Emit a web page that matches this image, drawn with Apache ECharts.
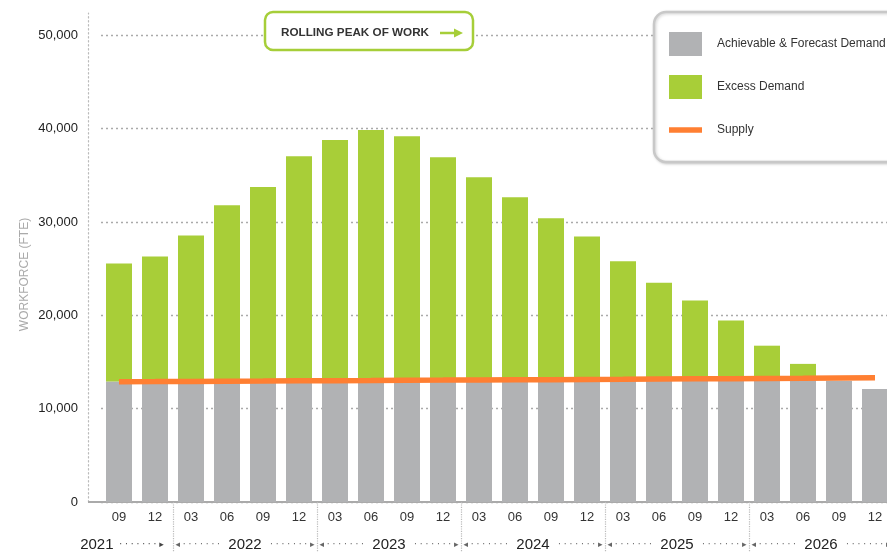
<!DOCTYPE html>
<html>
<head>
<meta charset="utf-8">
<title>Workforce demand vs supply</title>
<script src="https://cdn.jsdelivr.net/npm/echarts@6/dist/echarts.min.js"></script>
<style>
  html, body { margin: 0; padding: 0; background: #fff; overflow: hidden; }
  #main { width: 900px; height: 552px; }
</style>
</head>
<body>
<div id="main"></div>
<script>
// quarters shown on the x axis
var periods = ['2021-09', '2021-12',
  '2022-03', '2022-06', '2022-09', '2022-12',
  '2023-03', '2023-06', '2023-09', '2023-12',
  '2024-03', '2024-06', '2024-09', '2024-12',
  '2025-03', '2025-06', '2025-09', '2025-12',
  '2026-03', '2026-06', '2026-09', '2026-12'];
var monthLabels = ['09', '12', '03', '06', '09', '12', '03', '06', '09', '12', '03',
  '06', '09', '12', '03', '06', '09', '12', '03', '06', '09', '12'];
var yearLabels = ['2021', '2022', '2023', '2024', '2025', '2026'];

// values (FTE)
var achievable = [12900, 12900, 12900, 12950, 12950, 13000, 13000, 13000, 13050, 13050, 13100,
  13100, 13100, 13150, 13150, 13200, 13200, 13200, 13250, 13250, 13000, 12100];
var excess = [12650, 13400, 15650, 18850, 20800, 24050, 25800, 26850, 26150, 23900, 21700,
  19550, 17300, 15300, 12650, 10300, 8400, 6250, 3500, 1550, 0, 0];
var supply = [12890, 12900, 12920, 12950, 12960, 12980, 13000, 13020, 13050, 13060, 13080,
  13100, 13110, 13140, 13150, 13180, 13200, 13210, 13240, 13260, 13290, 13310];

var FONT = '"Liberation Sans", Arial, sans-serif';
var GRAY = '#b1b2b4', GREEN = '#a8ce38', ORANGE = '#ff7f32';

// where each year label sits (middle of its quarters)
var yearAt = {};
yearLabels.forEach(function (y) {
  var idx = [];
  periods.forEach(function (p, i) { if (p.slice(0, 4) === y) idx.push(i); });
  yearAt[(idx[0] + idx[idx.length - 1] + 1) / 2] = y;
});
var firstYearPos = (function () { for (var k in yearAt) { if (yearAt[k] === yearLabels[0]) return +k; } })();

var chartDom = document.getElementById('main');
var myChart = echarts.init(chartDom);
var option = {
  animation: false,
  textStyle: { fontFamily: FONT },
  grid: { left: 101, top: 13, width: 792, height: 489 },
  legend: {
    orient: 'vertical',
    left: 654,
    top: 12,
    padding: [20, 20, 20, 15],
    itemWidth: 33,
    itemHeight: 24,
    itemGap: 19,
    selectedMode: false,
    backgroundColor: '#fff',
    borderColor: '#c8c8c8',
    borderWidth: 2.5,
    borderRadius: 12,
    shadowColor: 'rgba(0,0,0,0.18)',
    shadowBlur: 3,
    shadowOffsetX: 1,
    shadowOffsetY: 1,
    textStyle: { color: '#333', fontSize: 12, lineHeight: 24, fontFamily: FONT, padding: [0, 0, 0, 10] },
    data: [
      { name: 'Achievable & Forecast Demand', icon: 'rect' },
      { name: 'Excess Demand', icon: 'rect' },
      { name: 'Supply', icon: 'path://M0,0L33,0L33,5.5L0,5.5Z' }
    ]
  },
  xAxis: [
    {
      type: 'category',
      data: periods,
      axisLine: { lineStyle: { color: '#aaa', width: 2 } },
      axisTick: {
        show: true,
        length: 50,
        interval: function (i) {
          return i > 0 && periods[i].slice(0, 4) !== periods[i - 1].slice(0, 4);
        },
        lineStyle: { color: '#bbb', type: 'dotted', width: 1.2 }
      },
      axisLabel: {
        interval: 0,
        margin: 9,
        color: '#333',
        fontSize: 13,
        formatter: function (v, i) { return monthLabels[i]; }
      }
    },
    {
      type: 'value',
      min: 0,
      max: periods.length,
      interval: 1,
      position: 'bottom',
      offset: 27,
      axisLine: { show: false },
      axisTick: { show: false },
      splitLine: { show: false },
      axisLabel: {
        margin: 8,
        formatter: function (v) {
          var y = yearAt[v];
          if (!y) return '';
          if (v === firstYearPos) return '{y|' + y + '}{e|  · · · · · · · ▸}';
          return '{d|◂ · · · · · · ·}{y|  ' + y + '  }{d|· · · · · · · ▸}';
        },
        rich: {
          y: { fontSize: 15, color: '#222', fontFamily: FONT },
          d: { fontSize: 9, color: '#666', fontFamily: 'DejaVu Sans' },
          e: { fontSize: 9, color: '#444', fontFamily: 'DejaVu Sans', padding: [0, 30, 0, 0] }
        }
      }
    }
  ],
  yAxis: {
    type: 'value',
    min: 0,
    max: 52400,
    interval: 10000,
    offset: 13,
    name: 'WORKFORCE (FTE)',
    nameLocation: 'middle',
    nameGap: 57,
    nameMoveOverlap: false,
    nameTextStyle: { color: '#aaa', fontSize: 12, fontFamily: FONT, padding: [0, 34, 0, 0] },
    axisLine: { show: true, onZero: false, lineStyle: { color: '#bbb', type: [1.5, 2.5], width: 1.2 } },
    axisTick: { show: false },
    axisLabel: {
      color: '#222',
      fontSize: 13,
      margin: 10,
      showMaxLabel: false,
      formatter: function (v) { return v % 10000 ? '' : v.toLocaleString('en-US'); }
    },
    splitLine: {
      show: true,
      showMaxLine: false,
      lineStyle: { color: '#aaa', type: [2, 3], width: 1.3 }
    }
  },
  graphic: [
    {
      type: 'line',
      z: 100,
      shape: { x1: 88, y1: 502, x2: 102, y2: 502 },
      style: { stroke: '#aaa', lineWidth: 2 }
    },
    {
      type: 'group',
      x: 265,
      y: 12,
      z: 100,
      children: [
        { type: 'rect', z: 100, shape: { x: 0, y: 0, width: 208, height: 38, r: 8 },
          style: { fill: '#fff', stroke: '#a6ce39', lineWidth: 2.5 } },
        { type: 'text', z: 101, x: 16, y: 21,
          style: { text: 'ROLLING PEAK OF WORK', font: 'bold 11.7px ' + FONT, fill: '#333', verticalAlign: 'middle' } },
        { type: 'line', z: 101, shape: { x1: 175, y1: 21, x2: 191, y2: 21 },
          style: { stroke: '#a6ce39', lineWidth: 2.5 } },
        { type: 'polygon', z: 101, shape: { points: [[189, 16.5], [198, 21], [189, 25.5]] },
          style: { fill: '#a6ce39' } }
      ]
    }
  ],
  series: [
    {
      name: 'Achievable & Forecast Demand',
      type: 'bar',
      stack: 'demand',
      barWidth: 26,
      itemStyle: { color: GRAY },
      data: achievable
    },
    {
      name: 'Excess Demand',
      type: 'bar',
      stack: 'demand',
      barWidth: 26,
      itemStyle: { color: GREEN },
      data: excess
    },
    {
      name: 'Supply',
      type: 'line',
      symbol: 'none',
      z: 5,
      itemStyle: { color: ORANGE },
      lineStyle: { color: ORANGE, width: 5.5 },
      data: supply
    }
  ]
};
option && myChart.setOption(option);
</script>
</body>
</html>
